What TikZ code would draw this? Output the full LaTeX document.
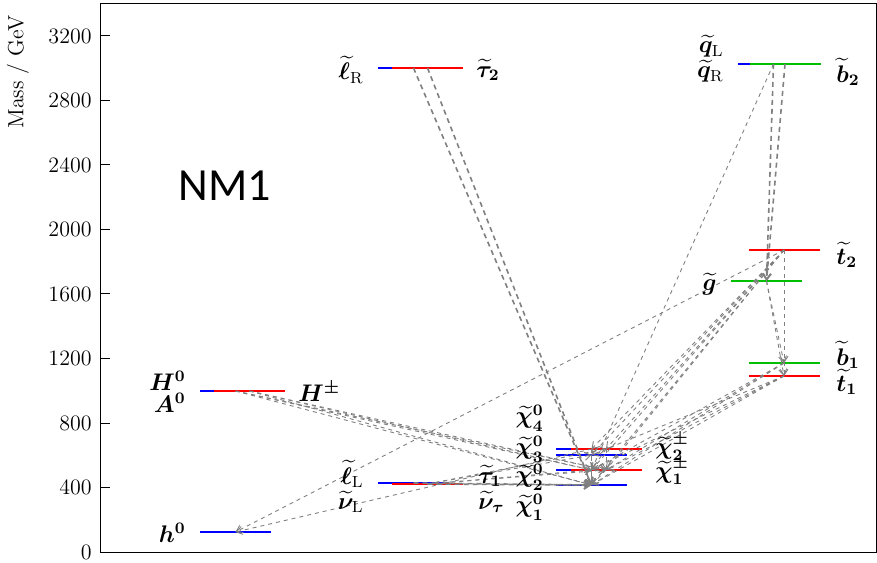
\documentclass[tikz,border=0pt]{standalone}
\usepackage{amsmath,bm}
\usepackage{fontspec}
\newfontfamily\titlefont{Carlito}
\usetikzlibrary{arrows.meta}

\tikzset{
  lev/.style={line width=0.8pt},
  dec/.style={draw=gray, line width=0.45pt, dash pattern=on 2pt off 2pt,
              -{Straight Barb[length=3pt,width=4pt]}},
  decthick/.style={dec, line width=0.8pt, dash pattern=on 2.5pt off 2pt},
  lbl/.style={inner sep=0pt, font=\large\boldmath},
  ticklbl/.style={anchor=east, inner sep=1pt, font=\fontsize{11}{13}\selectfont},
}
\definecolor{sgreen}{RGB}{0,190,0}

\begin{document}
\begin{tikzpicture}[x=0.5pt,y=-0.5pt]
\useasboundingbox (0,0) rectangle (877,562);

% frame and mass axis
\draw[line width=0.5pt] (100,3) rectangle (876,552);
\foreach \m in {0,400,...,3200}{
  \pgfmathsetmacro{\yy}{552-0.16125*\m}
  \draw[line width=0.5pt] (100,\yy) -- (110,\yy);
  \node[ticklbl] (tick\m) at (94,\yy) {\m};
}
\node[rotate=90, font=\fontsize{11}{13}\selectfont] (ylab) at (18,72) {Mass / GeV};
\node[font=\titlefont\fontsize{23}{27}\selectfont] (title) at (225,186) {NM1};

% level centres
\coordinate (h)   at (235.5,532);
\coordinate (H)   at (235.5,391);
\coordinate (Hpm) at (249.5,391);
\coordinate (lL)  at (413.5,483);
\coordinate (ta1) at (427.5,484);
\coordinate (lR)  at (413.5,68);
\coordinate (ta2) at (427.5,68);
\coordinate (N4)  at (591.5,449);
\coordinate (N3)  at (591.5,455);
\coordinate (N2)  at (591.5,470);
\coordinate (N1)  at (591.5,485);
\coordinate (C2)  at (606,449);
\coordinate (C1)  at (606,470);
\coordinate (qL)  at (773.5,64);
\coordinate (b2)  at (785,64);
\coordinate (t2)  at (784,250);
\coordinate (g)   at (766.5,281);
\coordinate (b1)  at (784,363);
\coordinate (t1)  at (784,376);

% mass levels
\foreach \p in {h,H,lL,lR,N4,N3,N2,N1,qL}
  \draw[lev,blue] ([xshift=-17.75pt]\p) -- ([xshift=17.75pt]\p);
\foreach \p in {Hpm,ta1,ta2,C2,C1,t2,t1}
  \draw[lev,red] ([xshift=-17.75pt]\p) -- ([xshift=17.75pt]\p);
\foreach \p in {b2,g,b1}
  \draw[lev,sgreen] ([xshift=-17.75pt]\p) -- ([xshift=17.75pt]\p);

% decays: squarks and gluino
\draw[decthick] (qL) -- (g);
\draw[decthick] (b2) -- (g);
\draw[dec] (qL) -- (N2);
\draw[dec] (g) -- (t1);
\draw[dec] (g) -- (b1);
\draw[dec] (t2) -- (t1);
\draw[dec] (t2) -- (b1);
\draw[dec] (t2) -- (h);
\foreach \d in {N1,N2,N3,N4,C1,C2} \draw[dec] (t2) -- (\d);
\foreach \d in {N1,N2,N3,C1} \draw[dec] (t1) -- (\d);
\foreach \d in {N1,N2,C1} \draw[dec] (b1) -- (\d);

% decays: sleptons
\draw[decthick] (lR) -- (N1);
\draw[decthick] (ta2) -- (N1);
\draw[decthick] (lL) -- (N1);
\draw[decthick] (ta1) -- (N1);
\foreach \d in {N2,C1,N3,C2} \draw[dec] (ta1) -- (\d);

% decays: Higgs bosons
\foreach \d in {N1,N2,C1} {
  \draw[dec] (H) -- (\d);
  \draw[dec] (Hpm) -- (\d);
}

% decays: charginos and neutralinos
\draw[dec] (N4) -- (h);
\draw[dec] (N3) -- (N1);
\draw[dec] (N4) -- (N1);
\draw[dec] (C2) -- (C1);
\draw[dec] (C2) -- (N2);
\draw[dec] (N2) -- (N1);
\draw[dec] (C1) -- (N1);

% labels
\node[lbl,anchor=east] (labH0)  at (186,381) {$H^0$};
\node[lbl,anchor=east] (labA0)  at (186,403) {$A^0$};
\node[lbl,anchor=west] (labHpm) at (298,392) {$H^\pm$};
\node[lbl,anchor=east] (labh0)  at (186,533) {$h^0$};
\node[lbl,anchor=east] (labeR)  at (364,70)  {$\widetilde{\ell}_{\text{R}}$};
\node[lbl,anchor=west] (labta2) at (476,70)  {$\widetilde{\tau}_2$};
\node[lbl,anchor=east] (labeL)  at (364,474) {$\widetilde{\ell}_{\text{L}}$};
\node[lbl,anchor=east] (labnL)  at (364,502) {$\widetilde{\nu}_{\text{L}}$};
\node[lbl,anchor=west] (labta1) at (478,476) {$\widetilde{\tau}_1$};
\node[lbl,anchor=west] (labnt)  at (478,502) {$\widetilde{\nu}_\tau$};
\node[lbl,anchor=east] (labN4)  at (544,418) {$\widetilde{\chi}^0_4$};
\node[lbl,anchor=east] (labN3)  at (544,449) {$\widetilde{\chi}^0_3$};
\node[lbl,anchor=east] (labN2)  at (544,477) {$\widetilde{\chi}^0_2$};
\node[lbl,anchor=east] (labN1)  at (544,507) {$\widetilde{\chi}^0_1$};
\node[lbl,anchor=west] (labC2)  at (655,447) {$\widetilde{\chi}^\pm_2$};
\node[lbl,anchor=west] (labC1)  at (655,471) {$\widetilde{\chi}^\pm_1$};
\node[lbl,anchor=east] (labqL)  at (724,46)  {$\widetilde{q}_{\text{L}}$};
\node[lbl,anchor=east] (labqR)  at (724,71)  {$\widetilde{q}_{\text{R}}$};
\node[lbl,anchor=west] (labb2)  at (836,72)  {$\widetilde{b}_2$};
\node[lbl,anchor=west] (labt2)  at (836,255) {$\widetilde{t}_2$};
\node[lbl,anchor=east] (labg)   at (717,284) {$\widetilde{g}$};
\node[lbl,anchor=west] (labb1)  at (836,355) {$\widetilde{b}_1$};
\node[lbl,anchor=west] (labt1)  at (836,382) {$\widetilde{t}_1$};
\end{tikzpicture}
\end{document}
